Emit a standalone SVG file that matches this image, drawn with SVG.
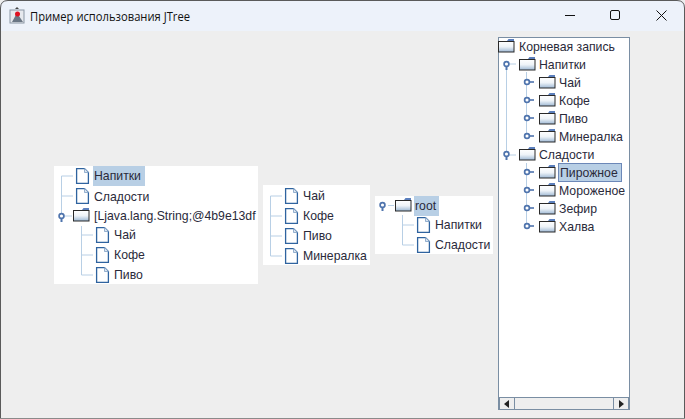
<svg xmlns="http://www.w3.org/2000/svg" width="685" height="419" viewBox="0 0 685 419">
<style>
text{font-family:"Liberation Sans",Arial,sans-serif;font-size:12.25px;fill:#2a2a3a}
.title{font-family:"Open Sans","Noto Sans",sans-serif;font-size:12px;fill:#111111}
.ln{stroke:#b8cfe5;stroke-width:1;fill:none}
.panel{fill:#ffffff}
</style>
<defs>
<linearGradient id="fg" x1="0" y1="0" x2="0" y2="1"><stop offset="0" stop-color="#ffffff"/><stop offset="0.5" stop-color="#eef3f8"/><stop offset="1" stop-color="#9db8d4"/></linearGradient>
<g id="file"><path d="M0.600 0.600H8.500L12.400 4.500V15.400H0.600Z" fill="#ffffff" stroke="#2f639f" stroke-width="1.300"/><path d="M8.500 0.600V4.500H12.400Z" fill="#dce6f0" stroke="#7f9fc4" stroke-width="0.800"/></g>
<g id="folder"><path d="M9 2L10.500 0H16V2Z" fill="#5b7fbd"/><rect x="0.500" y="2.500" width="15.500" height="10.500" fill="url(#fg)" stroke="#2a2a2a"/></g>
<g id="open"><circle cx="0" cy="0" r="2.400" fill="#ffffff" stroke="#4f74ad" stroke-width="1.700"/><path d="M0 2.500V6" stroke="#4f74ad" stroke-width="2"/></g>
<g id="closed"><circle cx="0" cy="0" r="2.400" fill="#ffffff" stroke="#4f74ad" stroke-width="1.700"/><path d="M2.500 0H7" stroke="#4f74ad" stroke-width="1.600"/></g>
</defs>
<rect width="685" height="419" fill="#eeeeee"/>
<path d="M0 31V8Q0 0 8 0H677Q685 0 685 8V31Z" fill="#edf2fa"/>
<path d="M0.500 419V8Q0.500 0.500 8 0.500H677Q684.500 0.500 684.500 8V419" fill="none" stroke="#5a5a5a"/>
<path d="M0 418.500H685" stroke="#8a8a8a"/>
<g id="titlebar">
<rect x="10" y="10" width="14" height="13" fill="#e6e9ee" stroke="#8a95a3"/>
<path d="M12 22L17 13L23 22Z" fill="#6a7684"/><path d="M15 9L17 7L19 9Z" fill="#444"/><circle cx="17.500" cy="14" r="2.500" fill="#e01020"/>
<text class="title" x="30" y="20.500" textLength="160" lengthAdjust="spacingAndGlyphs">Пример использования JTree</text>
<path d="M565 15.500H575" stroke="#111" fill="none"/>
<rect x="610.500" y="10.500" width="9" height="9" rx="1.500" fill="none" stroke="#111"/>
<path d="M656.500 10.500L666.500 20.500M666.500 10.500L656.500 20.500" stroke="#111" fill="none"/>
</g>
<rect class="panel" x="54" y="166" width="204" height="118"/>
<rect class="panel" x="263" y="185" width="107" height="80"/>
<rect class="panel" x="375" y="196" width="118" height="58"/>
<rect x="498.500" y="37.500" width="131" height="372" fill="#fff" stroke="#7a8ea3"/>
<g id="connectors">
<path class="ln" d="M61.500 176V216M61.500 176H73M61.500 196H73M81.500 226V275M81.500 235H93M81.500 255H93M81.500 275H93"/>
<path class="ln" d="M270.500 196V256M270.500 196H282M270.500 216H282M270.500 236H282M270.500 256H282"/>
<path class="ln" d="M402.500 215V245M402.500 225H414M402.500 245H414M388 205.500H394"/>
<path class="ln" d="M506.500 64V155M506.500 64H516M506.500 155H516M526.500 72V137M526.500 163V227M61.500 216H72"/>
</g>
<g id="tree1">
<g id="t1-napitki"><rect x="93" y="166" width="52" height="20" fill="#b8cfe5"/><use href="#file" x="76" y="168"/><text x="94" y="180">Напитки</text></g>
<g id="t1-sladosti"><use href="#file" x="76" y="188"/><text x="94" y="201">Сладости</text></g>
<g id="t1-root"><use href="#open" x="61.500" y="216"/><use href="#folder" x="73" y="208"/><text x="94" y="220">[Ljava.lang.String;@4b9e13df</text></g>
<g id="t1-chai"><use href="#file" x="96" y="227"/><text x="114" y="239">Чай</text></g>
<g id="t1-kofe"><use href="#file" x="96" y="247"/><text x="114" y="259">Кофе</text></g>
<g id="t1-pivo"><use href="#file" x="96" y="267"/><text x="114" y="279">Пиво</text></g>
</g>
<g id="tree2">
<g id="t2-chai"><use href="#file" x="285" y="188"/><text x="303" y="200">Чай</text></g>
<g id="t2-kofe"><use href="#file" x="285" y="208"/><text x="303" y="220">Кофе</text></g>
<g id="t2-pivo"><use href="#file" x="285" y="228"/><text x="303" y="240">Пиво</text></g>
<g id="t2-mineralka"><use href="#file" x="285" y="248"/><text x="303" y="260">Минералка</text></g>
</g>
<g id="tree3">
<g id="t3-root"><rect x="414" y="196" width="25" height="20" fill="#b8cfe5"/><use href="#open" x="382.500" y="205"/><use href="#folder" x="395" y="198"/><text x="415" y="210">root</text></g>
<g id="t3-napitki"><use href="#file" x="417" y="217"/><text x="435" y="229">Напитки</text></g>
<g id="t3-sladosti"><use href="#file" x="417" y="237"/><text x="435" y="249">Сладости</text></g>
</g>
<g id="tree4">
<g id="t4-root"><use href="#folder" x="498" y="39"/><text x="519" y="51">Корневая запись</text></g>
<g id="t4-napitki"><use href="#open" x="506.500" y="64"/><use href="#folder" x="519" y="57"/><text x="539" y="69">Напитки</text></g>
<g id="t4-chai"><use href="#closed" x="527" y="82"/><use href="#folder" x="539" y="75"/><text x="559" y="87">Чай</text></g>
<g id="t4-kofe"><use href="#closed" x="527" y="100"/><use href="#folder" x="539" y="93"/><text x="559" y="105">Кофе</text></g>
<g id="t4-pivo"><use href="#closed" x="527" y="118"/><use href="#folder" x="539" y="111"/><text x="559" y="123">Пиво</text></g>
<g id="t4-mineralka"><use href="#closed" x="527" y="136"/><use href="#folder" x="539" y="129"/><text x="559" y="141">Минералка</text></g>
<g id="t4-sladosti"><use href="#open" x="506.500" y="154"/><use href="#folder" x="519" y="147"/><text x="539" y="159">Сладости</text></g>
<g id="t4-pirozhnoe"><rect x="558.500" y="163.500" width="63" height="18" fill="#b8cfe5" stroke="#6c88b8"/><use href="#closed" x="527" y="172"/><use href="#folder" x="539" y="165"/><text x="560" y="177">Пирожное</text></g>
<g id="t4-morozhenoe"><use href="#closed" x="527" y="190"/><use href="#folder" x="539" y="183"/><text x="559" y="195">Мороженое</text></g>
<g id="t4-zefir"><use href="#closed" x="527" y="208"/><use href="#folder" x="539" y="201"/><text x="559" y="213">Зефир</text></g>
<g id="t4-halva"><use href="#closed" x="527" y="226"/><use href="#folder" x="539" y="219"/><text x="559" y="231">Халва</text></g>
<g id="scrollbar"><rect x="499" y="397.500" width="130" height="12" fill="#eeeeee" stroke="#7a8ea3"/><rect x="499.500" y="397.500" width="15" height="12" fill="#eee" stroke="#7a8ea3"/><rect x="613.500" y="397.500" width="15" height="12" fill="#eee" stroke="#7a8ea3"/><path d="M509 400V408L504 404Z" fill="#222"/><path d="M619 400V408L624 404Z" fill="#222"/></g>
</g>
</svg>
